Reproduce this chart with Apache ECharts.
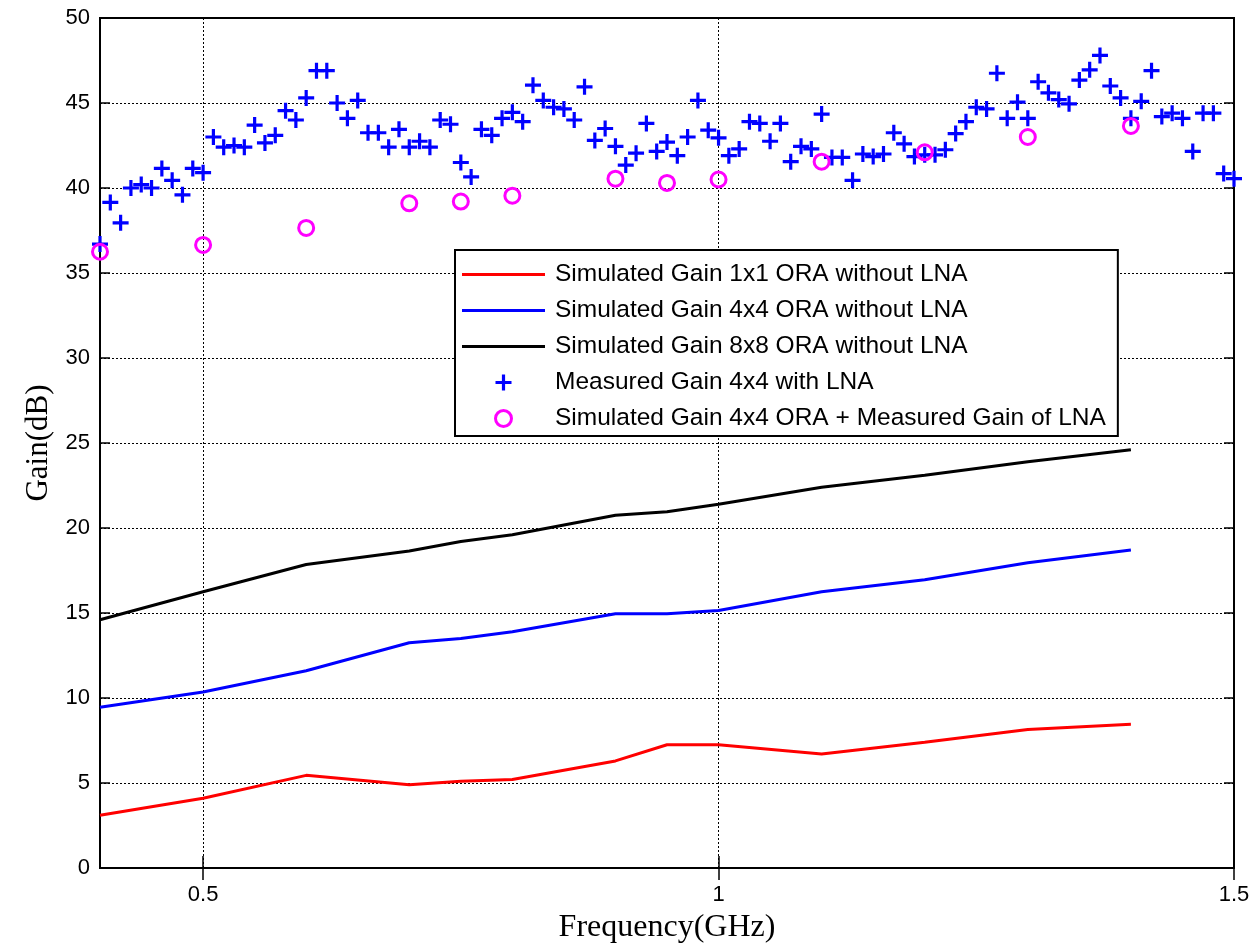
<!DOCTYPE html>
<html>
<head>
<meta charset="utf-8">
<title>Gain vs Frequency</title>
<script src="https://cdn.jsdelivr.net/npm/echarts@6.0.0/dist/echarts.min.js"></script>
<style>
  html, body { margin: 0; padding: 0; background: #fff; }
  #chart { width: 1259px; height: 951px; }
</style>
</head>
<body>
<div id="chart"></div>
<script>
// simulated points (GHz)
const simFreq = [0.4, 0.5, 0.6, 0.7, 0.75, 0.8, 0.9, 0.95, 1.0, 1.1, 1.2, 1.3, 1.4];
const gain1x1 = [3.1, 4.1, 5.45, 4.9, 5.1, 5.2, 6.3, 7.25, 7.25, 6.7, 7.4, 8.15, 8.45];
const gain4x4 = [9.45, 10.35, 11.6, 13.25, 13.5, 13.9, 14.95, 14.95, 15.15, 16.25, 16.95, 17.95, 18.7];
const gain8x8 = [14.6, 16.25, 17.85, 18.65, 19.2, 19.6, 20.75, 20.95, 21.4, 22.4, 23.1, 23.9, 24.6];
const gain4x4PlusLna = [36.25, 36.65, 37.65, 39.1, 39.2, 39.55, 40.55, 40.3, 40.5, 41.55, 42.1, 43.0, 43.65];

// measured sweep
const measuredFreq = [
  0.40, 0.41, 0.42, 0.43, 0.44, 0.45, 0.46, 0.47, 0.48, 0.49,
  0.50, 0.51, 0.52, 0.53, 0.54, 0.55, 0.56, 0.57, 0.58, 0.59,
  0.60, 0.61, 0.62, 0.63, 0.64, 0.65, 0.66, 0.67, 0.68, 0.69,
  0.70, 0.71, 0.72, 0.73, 0.74, 0.75, 0.76, 0.77, 0.78, 0.79,
  0.80, 0.81, 0.82, 0.83, 0.84, 0.85, 0.86, 0.87, 0.88, 0.89,
  0.90, 0.91, 0.92, 0.93, 0.94, 0.95, 0.96, 0.97, 0.98, 0.99,
  1.00, 1.01, 1.02, 1.03, 1.04, 1.05, 1.06, 1.07, 1.08, 1.09,
  1.10, 1.11, 1.12, 1.13, 1.14, 1.15, 1.16, 1.17, 1.18, 1.19,
  1.20, 1.21, 1.22, 1.23, 1.24, 1.25, 1.26, 1.27, 1.28, 1.29,
  1.30, 1.31, 1.32, 1.33, 1.34, 1.35, 1.36, 1.37, 1.38, 1.39,
  1.40, 1.41, 1.42, 1.43, 1.44, 1.45, 1.46, 1.47, 1.48, 1.49,
  1.50
];
const measuredGain = [
  36.7, 39.15, 37.95, 40.0, 40.2, 40.0, 41.15, 40.45, 39.6, 41.15,
  40.9, 43.0, 42.4, 42.5, 42.4, 43.7, 42.65, 43.1, 44.55, 44.0,
  45.3, 46.9, 46.9, 45.0, 44.1, 45.15, 43.25, 43.25, 42.4, 43.45,
  42.4, 42.75, 42.4, 44.0, 43.75, 41.5, 40.65, 43.45, 43.1, 44.1,
  44.45, 43.9, 46.05, 45.15, 44.75, 44.65, 44.0, 45.95, 42.8, 43.5,
  42.45, 41.35, 42.05, 43.8, 42.15, 42.7, 41.9, 43.0, 45.15, 43.4,
  42.95, 41.9, 42.3, 43.9, 43.8, 42.75, 43.8, 41.55, 42.45, 42.3,
  44.35, 41.8, 41.8, 40.45, 42.0, 41.85, 42.0, 43.25, 42.6, 41.85,
  41.95, 41.95, 42.25, 43.2, 43.9, 44.75, 44.65, 46.75, 44.1, 45.05,
  44.1, 46.25, 45.6, 45.2, 44.95, 46.35, 46.95, 47.8, 46.0, 45.3,
  44.1, 45.1, 46.9, 44.2, 44.4, 44.1, 42.15, 44.4, 44.4, 40.85,
  40.55
];

const xTicks = [0.5, 1, 1.5];
const seriesNames = [
  'Simulated Gain 1x1 ORA without LNA',
  'Simulated Gain 4x4 ORA without LNA',
  'Simulated Gain 8x8 ORA without LNA',
  'Measured Gain 4x4 with LNA',
  'Simulated Gain 4x4 ORA + Measured Gain of LNA'
];

const pairs = (xs, ys) => xs.map((x, i) => [x, ys[i]]);
const plusPath = 'path://M-1.5,-7.5H1.5V-1.5H7.5V1.5H1.5V7.5H-1.5V1.5H-7.5V-1.5H-1.5Z';
const lineIcon = 'path://M0,0H80V3H0Z';
const sans = 'Liberation Sans';
const serif = 'Liberation Serif';
const gridLine = { show: true, lineStyle: { color: '#000', width: 1, type: [2, 2] } };
const circleStyle = { color: 'rgba(0,0,0,0)', borderColor: '#ff00ff', borderWidth: 3, opacity: 1 };

const lineSeries = (name, ys, color) => ({
  name: name,
  type: 'line',
  data: pairs(simFreq, ys),
  symbol: 'none',
  lineStyle: { color: color, width: 3 },
  itemStyle: { color: color },
  animation: false
});

const chart = echarts.init(document.getElementById('chart'));
chart.setOption({
  backgroundColor: '#fff',
  animation: false,
  grid: {
    left: 100, right: 25, top: 18, bottom: 83,
    show: true, borderColor: '#000', borderWidth: 2, backgroundColor: '#fff'
  },
  legend: {
    orient: 'vertical',
    left: 455,
    top: 250,
    padding: [12, 12, 5, 7],
    itemWidth: 83,
    itemHeight: 16,
    itemGap: 11,
    symbolKeepAspect: true,
    backgroundColor: '#fff',
    borderColor: '#000',
    borderWidth: 2,
    borderRadius: 0,
    textStyle: { fontFamily: sans, fontSize: 24.5, lineHeight: 24, color: '#000', padding: [0, 0, 0, 5] },
    data: [
      { name: seriesNames[0], icon: lineIcon },
      { name: seriesNames[1], icon: lineIcon },
      { name: seriesNames[2], icon: lineIcon },
      { name: seriesNames[3] },
      { name: seriesNames[4], itemStyle: circleStyle }
    ]
  },
  xAxis: [{
    type: 'value',
    min: 0.4,
    max: 1.5,
    name: 'Frequency(GHz)',
    nameLocation: 'middle',
    nameGap: 44,
    nameTextStyle: { fontFamily: serif, fontSize: 32, color: '#000' },
    axisLine: { show: false },
    axisTick: { inside: true, length: 12, customValues: xTicks, lineStyle: { color: '#000', width: 1.5 } },
    axisLabel: { customValues: xTicks, fontFamily: sans, fontSize: 22, color: '#000', margin: 16 },
    splitLine: gridLine
  }, {
    type: 'value',
    position: 'top',
    min: 0.4,
    max: 1.5,
    axisLine: { show: false },
    axisTick: { inside: true, length: 12, customValues: xTicks, lineStyle: { color: '#000', width: 1.5 } },
    axisLabel: { show: false },
    splitLine: { show: false }
  }],
  yAxis: [{
    type: 'value',
    min: 0,
    max: 50,
    interval: 5,
    name: 'Gain(dB)',
    nameLocation: 'middle',
    nameGap: 46,
    nameTextStyle: { fontFamily: serif, fontSize: 31, color: '#000' },
    axisLine: { show: false },
    axisTick: { inside: true, length: 10, lineStyle: { color: '#000', width: 1.5 } },
    axisLabel: { fontFamily: sans, fontSize: 22, color: '#000', margin: 10 },
    splitLine: gridLine
  }, {
    type: 'value',
    position: 'right',
    min: 0,
    max: 50,
    interval: 5,
    axisLine: { show: false },
    axisTick: { inside: true, length: 10, lineStyle: { color: '#000', width: 1.5 } },
    axisLabel: { show: false },
    splitLine: { show: false }
  }],
  series: [
    lineSeries(seriesNames[0], gain1x1, '#ff0000'),
    lineSeries(seriesNames[1], gain4x4, '#0000ff'),
    lineSeries(seriesNames[2], gain8x8, '#000000'),
    {
      name: seriesNames[3],
      type: 'scatter',
      data: pairs(measuredFreq, measuredGain),
      symbol: plusPath,
      symbolSize: 16,
      itemStyle: { color: '#0000ff', opacity: 1 },
      animation: false
    },
    {
      name: seriesNames[4],
      type: 'scatter',
      data: pairs(simFreq, gain4x4PlusLna),
      symbol: 'circle',
      symbolSize: 15,
      itemStyle: circleStyle,
      animation: false
    }
  ]
});
</script>
</body>
</html>
